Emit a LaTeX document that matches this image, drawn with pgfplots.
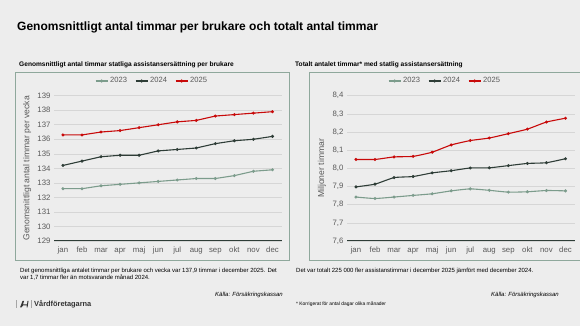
\documentclass[border=0pt]{standalone}
\usepackage{pgfplots}
\pgfplotsset{compat=1.18}
\usepackage{fontspec}
\setmainfont{Liberation Sans}
\definecolor{bg}{HTML}{EDEDED}
\definecolor{boxc}{HTML}{8FA89C}
\definecolor{cA}{HTML}{7C9C8C}
\definecolor{cB}{HTML}{2E3D37}
\definecolor{cC}{HTML}{C80A0A}
\definecolor{tick}{HTML}{595959}
\definecolor{gridc}{HTML}{D6D6D6}
\pgfplotsset{
  mystyle/.style={
    scale only axis, width=228pt, height=145.3pt,
    xmin=-0.47, xmax=11.5,
    xtick={0,...,11},
    xticklabels={jan,feb,mar,apr,maj,jun,jul,aug,sep,okt,nov,dec},
    axis line style={draw=none},
    axis x line*=bottom,
    axis y line*=left,
    ymajorgrids, grid style={gridc, line width=0.6pt},
    major tick length=0pt,
    tick label style={font=\fontsize{7.8}{8}\selectfont, text=tick},
    xticklabel style={text height=1.6ex, text depth=0.3ex},
    label style={font=\fontsize{8.6}{9}\selectfont, text=tick},
    /pgf/number format/assume math mode=true,
    legend columns=3,
    legend style={draw=none, fill=none, font=\fontsize{7.6}{8}\selectfont, text=tick,
      at={(0.43,1)}, anchor=center, yshift=14.7pt,
      /tikz/every even column/.append style={column sep=6pt}},
    legend image code/.code={
      \draw[mark repeat=2,mark phase=2] plot coordinates {(0pt,0pt) (6pt,0pt) (12pt,0pt)};},
    every axis plot/.append style={line width=1.1pt, mark=*, mark size=0.9pt},
  }
}
\begin{document}
\begin{tikzpicture}[x=1pt,y=1pt]
\path[use as bounding box] (0,0) rectangle (580,326);
\fill[bg] (0,0) rectangle (580,326);
\node[anchor=west, inner sep=0pt, font=\bfseries\fontsize{12}{14}\selectfont] at (17,299) {Genomsnittligt antal timmar per brukare och totalt antal timmar};
\node[anchor=west, inner sep=0pt, font=\bfseries\fontsize{6.6}{7}\selectfont] at (19,261) {Genomsnittligt antal timmar statliga assistansersättning per brukare};
\node[anchor=west, inner sep=0pt, font=\bfseries\fontsize{6.6}{7}\selectfont] at (295,261) {Totalt antalet timmar* med statlig assistansersättning};
\draw[boxc, line width=0.8pt] (15,66) rectangle (289,254);
\draw[boxc, line width=0.8pt] (309,66) rectangle (590,254);

\begin{axis}[mystyle, at={(54pt,85pt)}, anchor=south west,
  ymin=129, ymax=139, ytick={129,...,139},
  ylabel={Genomsnittligt antal timmar per vecka},
  ylabel style={at={(axis description cs:-0.118,0.5)}, anchor=center}]
\draw[cB, line width=1.2pt] (axis cs:-0.47,129) -- (axis cs:11.5,129);
\addplot[cA, mark options={fill=cA}] coordinates {(0,132.6)(1,132.6)(2,132.8)(3,132.9)(4,133.0)(5,133.1)(6,133.2)(7,133.3)(8,133.3)(9,133.5)(10,133.8)(11,133.9)};
\addlegendentry{2023}
\addplot[cB, mark options={fill=cB}] coordinates {(0,134.2)(1,134.5)(2,134.8)(3,134.9)(4,134.9)(5,135.2)(6,135.3)(7,135.4)(8,135.7)(9,135.9)(10,136.0)(11,136.2)};
\addlegendentry{2024}
\addplot[cC, mark options={fill=cC}] coordinates {(0,136.3)(1,136.3)(2,136.5)(3,136.6)(4,136.8)(5,137.0)(6,137.2)(7,137.3)(8,137.6)(9,137.7)(10,137.8)(11,137.9)};
\addlegendentry{2025}
\end{axis}

\begin{axis}[mystyle, at={(347pt,85pt)}, anchor=south west,
  ymin=7.6, ymax=8.4, ytick={7.6,7.7,...,8.41},
  yticklabel style={/pgf/number format/.cd, fixed, fixed zerofill, precision=1, use comma},
  ylabel={Miljoner timmar},
  ylabel style={at={(axis description cs:-0.11,0.5)}, anchor=center}]
\draw[cB, line width=1.2pt] (axis cs:-0.47,7.6) -- (axis cs:11.5,7.6);
\addplot[cA, mark options={fill=cA}, smooth, tension=0.3] coordinates {(0,7.842)(1,7.834)(2,7.842)(3,7.851)(4,7.860)(5,7.876)(6,7.887)(7,7.879)(8,7.869)(9,7.871)(10,7.878)(11,7.876)};
\addlegendentry{2023}
\addplot[cB, mark options={fill=cB}, smooth, tension=0.3] coordinates {(0,7.898)(1,7.913)(2,7.949)(3,7.955)(4,7.975)(5,7.987)(6,8.002)(7,8.003)(8,8.015)(9,8.027)(10,8.031)(11,8.053)};
\addlegendentry{2024}
\addplot[cC, mark options={fill=cC}, smooth, tension=0.3] coordinates {(0,8.049)(1,8.049)(2,8.063)(3,8.066)(4,8.089)(5,8.129)(6,8.153)(7,8.167)(8,8.191)(9,8.216)(10,8.255)(11,8.276)};
\addlegendentry{2025}
\end{axis}

\node[anchor=north west, inner sep=0pt, align=left, font=\fontsize{6}{7.8}\selectfont] at (20,58.5) {Det genomsnittliga antalet timmar per brukare och vecka var 137,9 timmar i december 2025. Det\\var 1,7 timmar fler än motsvarande månad 2024.};
\node[anchor=north west, inner sep=0pt, align=left, font=\fontsize{6}{7.8}\selectfont] at (296,58.5) {Det var totalt 225 000 fler assistanstimmar i december 2025 jämfört med december 2024.};
\node[anchor=east, inner sep=0pt, font=\itshape\fontsize{6}{7}\selectfont] at (283,31) {Källa: Försäkringskassan};
\node[anchor=east, inner sep=0pt, font=\itshape\fontsize{6}{7}\selectfont] at (559,31) {Källa: Försäkringskassan};
\node[anchor=west, inner sep=0pt, font=\fontsize{4.9}{5}\selectfont] at (296,22) {* Korrigerat för antal dagar olika månader};
\draw[gray!70, line width=0.5pt] (16,18) -- (16,26);
\draw[gray!70, line width=0.5pt] (31,18) -- (31,26);
\fill[black!80] (20,18.5) -- (22.5,25) -- (24,25) -- (23,21.5) -- (27,21.5) -- (27.5,25) -- (28.5,25) -- (27.5,18.5) -- (26.5,18.5) -- (27,20.5) -- (23,20.5) -- (21.5,18.5) -- cycle;
\node[anchor=west, inner sep=0pt, font=\bfseries\fontsize{7.4}{8}\selectfont, text=black!80] at (34,22) {Vårdföretagarna};
\end{tikzpicture}
\end{document}
